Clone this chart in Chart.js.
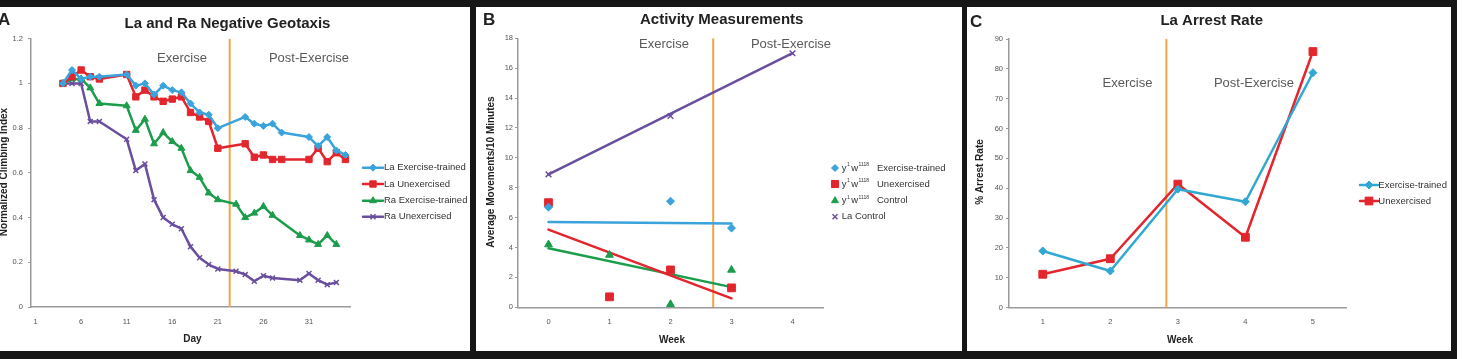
<!DOCTYPE html>
<html><head><meta charset="utf-8">
<script src="https://cdn.jsdelivr.net/npm/chart.js@4.4.1/dist/chart.umd.min.js"></script>
<style>
html,body{margin:0;padding:0;background:#fff;width:1463px;height:359px;overflow:hidden;position:relative}
.band{position:absolute;background:#161616}
canvas{position:absolute}
</style></head><body>
<div class="band" style="left:0;top:0;width:1457px;height:7px"></div>
<div class="band" style="left:0;top:351px;width:1457px;height:8px"></div>
<div class="band" style="left:470px;top:0;width:6px;height:359px"></div>
<div class="band" style="left:962px;top:0;width:5px;height:359px"></div>
<div class="band" style="left:1451px;top:0;width:6px;height:359px"></div>
<canvas id="cA" width="470" height="344" style="left:0;top:7px;width:470px;height:344px"></canvas>
<canvas id="cB" width="486" height="344" style="left:476px;top:7px;width:486px;height:344px"></canvas>
<canvas id="cC" width="484" height="344" style="left:967px;top:7px;width:484px;height:344px"></canvas>
<script>
// ---------- Panel A: La and Ra Negative Geotaxis ----------
const daysLa = [4,5,6,7,8,11,12,13,14,15,16,17,18,19,20,21,24,25,26,27,28,31,32,33,34,35];
const laExercise = [1.00,1.06,1.02,1.03,1.03,1.04,0.99,1.00,0.95,0.99,0.97,0.96,0.91,0.87,0.86,0.80,0.85,0.82,0.81,0.82,0.78,0.76,0.72,0.76,0.70,0.68];
const laUnexercised = [1.00,1.03,1.06,1.03,1.02,1.04,0.94,0.97,0.94,0.92,0.93,0.94,0.87,0.85,0.83,0.71,0.73,0.67,0.68,0.66,0.66,0.66,0.71,0.65,0.69,0.66];
const daysRa = [4,5,6,7,8,11,12,13,14,15,16,17,18,19,20,21,23,24,25,26,27,30,31,32,33,34];
const raExercise = [1.00,1.02,1.02,0.98,0.91,0.90,0.79,0.84,0.73,0.78,0.74,0.71,0.61,0.58,0.51,0.48,0.46,0.40,0.42,0.45,0.41,0.32,0.30,0.28,0.32,0.28];
const raUnexercised = [1.00,1.00,1.00,0.83,0.83,0.75,0.61,0.64,0.48,0.40,0.37,0.35,0.27,0.22,0.19,0.17,0.16,0.145,0.115,0.14,0.13,0.12,0.15,0.12,0.10,0.11];
const dayTicks = [1,6,11,16,21,26,31];
const exerciseEndDay = 22.3;

// ---------- Panel B: Activity Measurements ----------
const weeksBExercise = [0,2,3];
const actExercise = [6.7,7.1,5.3];
const weeksB = [0,1,2,3];
const actUnexercised = [7.0,0.7,2.5,1.3];
const actControl = [4.2,3.5,0.2,2.5];
const weeksLaControl = [0,2,4];
const actLaControl = [8.9,12.8,17.0];
const trendWeeks3 = [0,3];
const trendExercise = [5.7,5.6];
const trendUnexercised = [5.2,0.6];
const trendControl = [3.95,1.35];
const trendWeeks4 = [0,4];
const trendLaControl = [8.9,17.0];
const weekTicksB = [0,1,2,3,4];
const exerciseEndWeekB = 2.7;

// ---------- Panel C: La Arrest Rate ----------
const weeksC = [1,2,3,4,5];
const arrestExercise = [19.0,12.3,39.7,35.5,78.7];
const arrestUnexercised = [11.2,16.4,41.4,23.6,85.8];
const weekTicksC = [1,2,3,4,5];
const exerciseEndWeekC = 2.83;

// ---------- styling ----------
const FONT = '"Liberation Sans", Arial, Helvetica, sans-serif';
const COL = {blue:'#3aa3dc', cyan:'#30a8d2', red:'#e3262d', green:'#1c9d4b', purple:'#6a4f9f', orange:'#f0a444', axis:'#9a9a9a', tick:'#555', text:'#222', note:'#5a5a5a'};

function pts(xs, ys){ return xs.map((x,i)=>({x:x, y:ys[i]})); }

function drawMarker(ctx, style, x, y, r, color, bw){
  ctx.save();
  ctx.fillStyle = color; ctx.strokeStyle = color; ctx.lineWidth = bw || 1;
  if (Chart.helpers && Chart.helpers.drawPoint){
    Chart.helpers.drawPoint(ctx, {pointStyle:style, radius:r, rotation:0, borderWidth:bw||1}, x, y);
  }
  ctx.restore();
}

const decorCfg = {};
const decor = {
  id:'decor',
  afterDraw(chart){
    const cfg = decorCfg[chart.canvas.id]; if (!cfg) return;
    const ctx = chart.ctx; ctx.save();
    cfg.texts.forEach(t=>{
      ctx.font = t.font; ctx.fillStyle = t.color || COL.text;
      ctx.textAlign = t.align || 'center'; ctx.textBaseline = t.base || 'alphabetic';
      if (t.rot){ ctx.save(); ctx.translate(t.x,t.y); ctx.rotate(t.rot); ctx.fillText(t.text,0,0); ctx.restore(); }
      else ctx.fillText(t.text, t.x, t.y);
    });
    const L = cfg.legend;
    if (L){
      L.items.forEach((it,i)=>{
        const ds = chart.data.datasets[it.ds];
        const y = L.rows[i];
        const col = ds.borderColor;
        if (L.line){
          ctx.save(); ctx.strokeStyle = col; ctx.lineWidth = 2.5; ctx.lineCap='round';
          ctx.beginPath(); ctx.moveTo(L.x0, y); ctx.lineTo(L.x1, y); ctx.stroke(); ctx.restore();
        }
        drawMarker(ctx, ds.pointStyle, L.mx, y, it.r || ds.pointRadius, col, ds.pointBorderWidth);
        ctx.fillStyle = '#333'; ctx.textAlign='left'; ctx.textBaseline='middle';
        ctx.font = '9.5px ' + FONT;
        if (it.geno){
          let x = L.tx;
          ctx.fillText('y', x, y); x += ctx.measureText('y').width;
          ctx.font = '5px ' + FONT; ctx.fillText('1', x+0.5, y-3); x += ctx.measureText('1').width + 2;
          ctx.font = '9.5px ' + FONT; ctx.fillText('w', x, y); x += ctx.measureText('w').width + 0.5;
          ctx.font = '5px ' + FONT; ctx.fillText('1118', x, y-3);
          ctx.font = '9.5px ' + FONT; ctx.fillText(it.rest, L.tx2, y);
        } else {
          ctx.fillText(ds.label, L.tx, y);
        }
      });
    }
    ctx.restore();
  }
};
Chart.register(decor);

function scales(o){
  return {
    x:{type:'linear', min:o.xmin, max:o.xmax,
       afterBuildTicks:(s)=>{ s.ticks = o.xticks.map(v=>({value:v})); },
       afterFit:(s)=>{ s.height = o.xh; },
       grid:{display:false, drawTicks:false},
       border:{display:true, color:COL.axis, width:1.5},
       ticks:{font:{family:FONT,size:7.5}, color:COL.tick, padding:o.xpad, maxRotation:0, autoSkip:false}},
    y:{type:'linear', min:0, max:o.ymax,
       afterFit:(s)=>{ s.width = o.yw; },
       grid:{drawOnChartArea:false, drawTicks:true, tickLength:3, color:COL.axis, lineWidth:1},
       border:{display:true, color:COL.axis, width:1.5},
       ticks:{stepSize:o.ystep, font:{family:FONT,size:7.5}, color:COL.tick, padding:o.ypad,
              callback:(v)=>String(Number(v.toFixed(2)))}}
  };
}
function baseOpts(o){
  return {
    responsive:false, animation:false, events:[],
    layout:{padding:{top:o.top, right:o.right, left:0, bottom:0}},
    plugins:{legend:{display:false}, tooltip:{enabled:false}, title:{display:false}},
    scales:scales(o)
  };
}
function lineDs(label, data, color, style, r, extra){
  return Object.assign({label:label, data:data, borderColor:color, backgroundColor:color,
    pointBackgroundColor:color, pointBorderColor:color, borderWidth:2.5, pointStyle:style,
    pointRadius:r, pointBorderWidth:1, tension:0, borderJoinStyle:'round', borderCapStyle:'round', fill:false}, extra||{});
}
function phaseDs(x, ymax){
  return {label:'phase', data:[{x:x,y:0},{x:x,y:ymax}], borderColor:COL.orange, borderWidth:2, pointRadius:0, fill:false};
}

// ---------- Chart A ----------
decorCfg.cA = {
  texts:[
    {text:'A', x:-2, y:18, font:'bold 17px '+FONT, align:'left'},
    {text:'La and Ra Negative Geotaxis', x:227.5, y:21, font:'bold 15px '+FONT},
    {text:'Exercise', x:182, y:54.7, font:'13px '+FONT, color:COL.note},
    {text:'Post-Exercise', x:309, y:54.7, font:'13px '+FONT, color:COL.note},
    {text:'Day', x:192.5, y:332.5, font:'bold 10px '+FONT, base:'middle'},
    {text:'Normalized Climbing Index', x:4.5, y:165, font:'bold 10px '+FONT, base:'middle', rot:-Math.PI/2}
  ],
  legend:{line:true, x0:363, x1:383, mx:373, tx:384, rows:[160.7,177,193.7,209.7],
    items:[{ds:0},{ds:1},{ds:2},{ds:3}]}
};
new Chart(document.getElementById('cA'), {
  type:'line',
  data:{datasets:[
    lineDs('La Exercise-trained', pts(daysLa, laExercise), COL.blue, 'rectRot', 3.5),
    lineDs('La Unexercised', pts(daysLa, laUnexercised), COL.red, 'rect', 4.5),
    lineDs('Ra Exercise-trained', pts(daysRa, raExercise), COL.green, 'triangle', 4),
    lineDs('Ra Unexercised', pts(daysRa, raUnexercised), COL.purple, 'crossRot', 3.5, {pointBorderWidth:1.5}),
    phaseDs(exerciseEndDay, 1.2)
  ]},
  options:baseOpts({top:31.7, right:120, xmin:0.5, xmax:35.5, xticks:dayTicks, xh:44, xpad:10,
    ymax:1.2, ystep:0.2, yw:31, ypad:5})
});

// ---------- Chart B ----------
decorCfg.cB = {
  texts:[
    {text:'B', x:7, y:18, font:'bold 17px '+FONT, align:'left'},
    {text:'Activity Measurements', x:245.7, y:17, font:'bold 15px '+FONT},
    {text:'Exercise', x:188, y:41.3, font:'13px '+FONT, color:COL.note},
    {text:'Post-Exercise', x:315, y:41.3, font:'13px '+FONT, color:COL.note},
    {text:'Week', x:196, y:333, font:'bold 10px '+FONT, base:'middle'},
    {text:'Average Movements/10 Minutes', x:15.5, y:165, font:'bold 10px '+FONT, base:'middle', rot:-Math.PI/2}
  ],
  legend:{line:false, mx:359, tx:365.7, tx2:401, rows:[161,177,193.7,209.7],
    items:[{ds:0, geno:true, rest:'Exercise-trained', r:3.5},{ds:1, geno:true, rest:'Unexercised', r:5},
           {ds:2, geno:true, rest:'Control', r:4},{ds:3, r:3.5}]}
};
const noLine = {showLine:false};
new Chart(document.getElementById('cB'), {
  type:'line',
  data:{datasets:[
    lineDs('y¹w¹¹¹⁸ Exercise-trained', pts(weeksBExercise, actExercise), COL.blue, 'rectRot', 4, noLine),
    lineDs('y¹w¹¹¹⁸ Unexercised', pts(weeksB, actUnexercised), COL.red, 'rect', 5.5, noLine),
    lineDs('y¹w¹¹¹⁸ Control', pts(weeksB, actControl), COL.green, 'triangle', 4.5, noLine),
    lineDs('La Control', pts(weeksLaControl, actLaControl), COL.purple, 'crossRot', 4, {showLine:false, pointBorderWidth:1.5}),
    lineDs('trend Exercise-trained', pts(trendWeeks3, trendExercise), COL.blue, 'circle', 0),
    lineDs('trend Unexercised', pts(trendWeeks3, trendUnexercised), COL.red, 'circle', 0),
    lineDs('trend Control', pts(trendWeeks3, trendControl), COL.green, 'circle', 0),
    lineDs('trend La Control', pts(trendWeeks4, trendLaControl), COL.purple, 'circle', 0),
    phaseDs(exerciseEndWeekB, 18)
  ]},
  options:baseOpts({top:31.3, right:139, xmin:-0.5, xmax:4.5, xticks:weekTicksB, xh:43.7, xpad:10,
    ymax:18, ystep:2, yw:42, ypad:2})
});

// ---------- Chart C ----------
decorCfg.cC = {
  texts:[
    {text:'C', x:3, y:19.5, font:'bold 17px '+FONT, align:'left'},
    {text:'La Arrest Rate', x:244.7, y:18, font:'bold 15px '+FONT},
    {text:'Exercise', x:160.5, y:79.7, font:'13px '+FONT, color:COL.note},
    {text:'Post-Exercise', x:287, y:79.7, font:'13px '+FONT, color:COL.note},
    {text:'Week', x:213, y:333, font:'bold 10px '+FONT, base:'middle'},
    {text:'% Arrest Rate', x:13, y:165, font:'bold 10px '+FONT, base:'middle', rot:-Math.PI/2}
  ],
  legend:{line:true, x0:393, x1:411, mx:402, tx:411.3, rows:[178,194],
    items:[{ds:0},{ds:1}]}
};
new Chart(document.getElementById('cC'), {
  type:'line',
  data:{datasets:[
    lineDs('Exercise-trained', pts(weeksC, arrestExercise), COL.cyan, 'rectRot', 4),
    lineDs('Unexercised', pts(weeksC, arrestUnexercised), COL.red, 'rect', 5.5),
    phaseDs(exerciseEndWeekC, 90)
  ]},
  options:baseOpts({top:32, right:104.3, xmin:0.5, xmax:5.5, xticks:weekTicksC, xh:43.3, xpad:10,
    ymax:90, ystep:10, yw:42, ypad:3})
});
</script>
</body></html>
